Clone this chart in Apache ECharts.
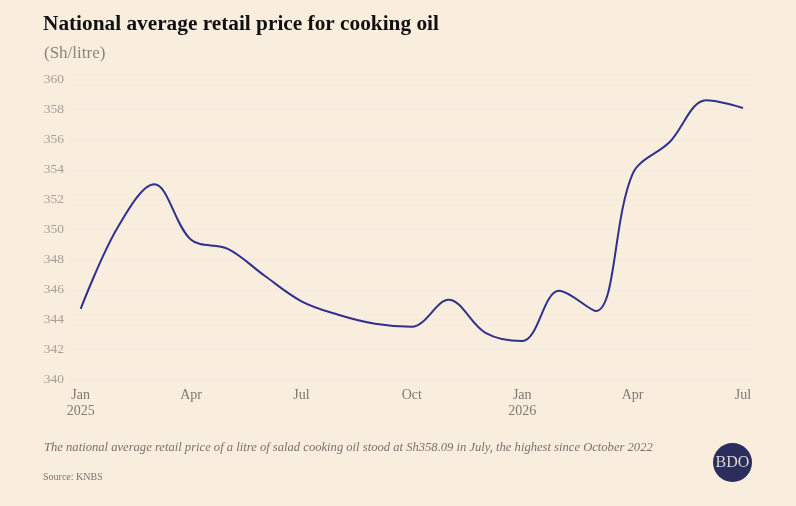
<!DOCTYPE html>
<html>
<head>
<meta charset="utf-8">
<script src="https://cdn.jsdelivr.net/npm/echarts@6/dist/echarts.min.js"></script>
<style>
  html, body { margin: 0; padding: 0; background: #f9eddd; }
  #chart { width: 796px; height: 506px; }
</style>
</head>
<body>
<div id="chart"></div>
<script>
// monthly prices, Jan 2025 - Jul 2026
const months = ['Jan', 'Feb', 'Mar', 'Apr', 'May', 'Jun', 'Jul', 'Aug', 'Sep', 'Oct', 'Nov', 'Dec',
  'Jan', 'Feb', 'Mar', 'Apr', 'May', 'Jun', 'Jul']
const years = ['2025', '', '', '', '', '', '', '', '', '', '', '', '2026', '', '', '', '', '', '']
const prices = [344.7, 350.1, 353.0, 349.3, 348.7, 346.9, 345.2, 344.3, 343.7, 343.5, 345.3, 343.1,
  342.55, 345.9, 344.55, 353.7, 355.8, 358.6, 358.09]
const yTicks = [340, 342, 344, 346, 348, 350, 352, 354, 356, 358, 360]

const serif = '"Liberation Serif", "DejaVu Serif", serif'

const chart = echarts.init(document.getElementById('chart'))

const option = {
  backgroundColor: '#f9eddd',
  animation: false,
  title: [
    {
      text: 'National average retail price for cooking oil',
      left: 43, top: 13.5, padding: 0,
      textStyle: { fontFamily: serif, fontWeight: 'bold', fontSize: 21.3, color: '#111' }
    },
    {
      text: '(Sh/litre)',
      left: 44, top: 45, padding: 0,
      textStyle: { fontFamily: serif, fontWeight: 'normal', fontSize: 17, color: '#8a8580' }
    },
    {
      text: 'The national average retail price of a litre of salad cooking oil stood at Sh358.09 in July, the highest since October 2022',
      left: 44, top: 441, padding: 0,
      textStyle: { fontFamily: serif, fontStyle: 'italic', fontWeight: 'normal', fontSize: 12.6, color: '#77726e' }
    },
    {
      text: 'Source: KNBS',
      left: 43, top: 472, padding: 0,
      textStyle: { fontFamily: serif, fontWeight: 'normal', fontSize: 10, color: '#7a7570' }
    }
  ],
  grid: [
    { left: 80.7, right: 53, top: 79.3, bottom: 126.7 },
    { left: 70, right: 44, top: 79.3, bottom: 126.7 }
  ],
  xAxis: [
    {
      type: 'category',
      gridIndex: 0,
      data: months,
      boundaryGap: false,
      axisLine: { show: false },
      axisTick: { show: false },
      axisLabel: {
        interval: 2,
        margin: 8,
        fontFamily: serif,
        fontSize: 14,
        color: '#7d7873',
        lineHeight: 16,
        formatter: (v, i) => years[i] ? v + '\n' + years[i] : v
      },
      splitLine: { show: false }
    },
    {
      type: 'value',
      gridIndex: 1,
      show: false
    }
  ],
  yAxis: [
    {
      type: 'value',
      gridIndex: 0,
      min: yTicks[0],
      max: yTicks[yTicks.length - 1],
      interval: 2,
      show: false
    },
    {
      type: 'value',
      gridIndex: 1,
      min: yTicks[0],
      max: yTicks[yTicks.length - 1],
      interval: 2,
      axisLine: { show: false },
      axisTick: { show: false },
      axisLabel: { margin: 6, fontFamily: serif, fontSize: 13.5, color: '#a59e97' },
      splitLine: { lineStyle: { color: '#f4e7df', width: 1.5 } }
    }
  ],
  series: [
    {
      type: 'line',
      xAxisIndex: 0,
      yAxisIndex: 0,
      data: prices,
      smooth: 0.35,
      showSymbol: false,
      lineStyle: { color: '#30308f', width: 2 }
    }
  ],
  graphic: [
    {
      type: 'circle',
      shape: { cx: 732.5, cy: 462.5, r: 19.5 },
      style: { fill: '#2b2d5c' }
    },
    {
      type: 'text',
      x: 732.5, y: 463,
      style: {
        text: 'BDO', fill: '#ddd5cf', align: 'center', verticalAlign: 'middle',
        font: '16px "Liberation Serif", serif'
      }
    }
  ]
}

chart.setOption(option)
</script>
</body>
</html>
